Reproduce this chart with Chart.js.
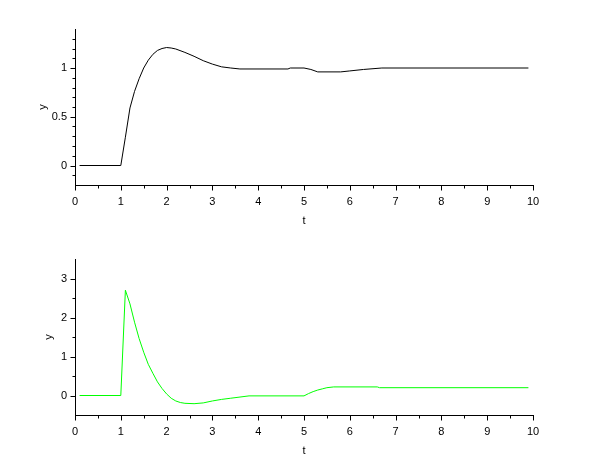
<!DOCTYPE html>
<html><head><meta charset="utf-8">
<script src="https://cdn.jsdelivr.net/npm/chart.js@4/dist/chart.umd.min.js"></script>
<style>
html,body{margin:0;padding:0;background:#fff;}
#wrap{position:relative;width:610px;height:460px;background:#fff;}
.box{position:absolute;left:0;width:610px;height:230px;}
</style></head><body>
<div id="wrap">
<div class="box" style="top:0"><canvas id="c1" width="610" height="230"></canvas></div>
<div class="box" style="top:230px"><canvas id="c2" width="610" height="230"></canvas></div>
</div>
<script>
// ---- data ----
const tTop = [0.1,1.0,1.1,1.2,1.3,1.4,1.5,1.6,1.7,1.8,1.9,2.0,2.1,2.2,2.4,2.6,2.8,3.0,3.2,3.4,3.6,4.65,4.7,5.0,5.15,5.3,5.8,6.0,6.3,6.7,9.9];
const yTop = [0,0,0.29,0.59,0.76,0.89,1.0,1.08,1.14,1.18,1.2,1.21,1.205,1.195,1.16,1.12,1.075,1.04,1.012,1.0,0.99,0.99,1.0,1.0,0.985,0.96,0.96,0.97,0.985,1.0,1.0];
const tBot = [0.1,1.0,1.1,1.2,1.3,1.4,1.5,1.6,1.7,1.8,1.9,2.0,2.1,2.2,2.3,2.4,2.6,2.8,3.0,3.2,3.4,3.8,5.0,5.1,5.2,5.3,5.4,5.5,5.65,6.6,6.65,9.9];
const yBot = [0,0,2.7,2.35,1.88,1.46,1.11,0.8,0.57,0.35,0.18,0.04,-0.07,-0.14,-0.18,-0.2,-0.21,-0.19,-0.14,-0.1,-0.07,-0.01,-0.01,0.05,0.1,0.14,0.17,0.2,0.22,0.22,0.2,0.2];

const xMajor = [0,1,2,3,4,5,6,7,8,9,10];
const xMinor = [0.5,1.5,2.5,3.5,4.5,5.5,6.5,7.5,8.5,9.5];
const yTopMajor = [0,0.5,1];
const yTopMinor = [-0.1,0.1,0.2,0.3,0.4,0.6,0.7,0.8,0.9,1.1,1.2,1.3];
const yBotMajor = [0,1,2,3];
const yBotMinor = [0.5,1.5,2.5];

Chart.defaults.font.family = '"Liberation Sans", Arial, sans-serif';
Chart.defaults.font.size = 11;
Chart.defaults.color = '#000';

const tickPlugin = {
  id: 'scilabTicks',
  afterDraw(chart, args, opts) {
    const ctx = chart.ctx;
    const xs = chart.scales.x, ys = chart.scales.y;
    ctx.save();
    ctx.strokeStyle = '#000';
    ctx.lineWidth = 1;
    const left = Math.round(xs.left) + 0.5;
    const bottom = Math.round(ys.bottom) + 0.5;
    const h = (v, len) => {
      const y = Math.round(ys.getPixelForValue(v)) + 0.5;
      ctx.beginPath(); ctx.moveTo(left, y); ctx.lineTo(left - len, y); ctx.stroke();
    };
    const v = (val, len) => {
      const x = Math.round(xs.getPixelForValue(val)) + 0.5;
      ctx.beginPath(); ctx.moveTo(x, bottom); ctx.lineTo(x, bottom + len); ctx.stroke();
    };
    xMajor.forEach(t => v(t, 5));
    xMinor.forEach(t => v(t, 3));
    opts.yMajor.forEach(t => h(t, 5));
    opts.yMinor.forEach(t => h(t, 3));
    ctx.restore();
  }
};

function makeChart(id, tArr, yArr, color, yMin, yMax, yMajor, yMinor, yTitlePad) {
  return new Chart(document.getElementById(id), {
    type: 'scatter',
    data: {
      datasets: [{
        data: tArr.map((t, i) => ({x: t, y: yArr[i]})),
        showLine: true,
        borderColor: color,
        borderWidth: 1,
        pointRadius: 0,
        tension: 0,
        fill: false
      }]
    },
    options: {
      responsive: false,
      animation: false,
      devicePixelRatio: 1,
      layout: {padding: {top: 29, right: 77, bottom: 0, left: 0}},
      plugins: {
        legend: {display: false},
        tooltip: {enabled: false},
        scilabTicks: {yMajor: yMajor, yMinor: yMinor}
      },
      scales: {
        x: {
          type: 'linear', min: 0, max: 10,
          afterBuildTicks: s => { s.ticks = xMajor.map(v => ({value: v})); },
          afterFit: s => { s.height = 45; },
          grid: {display: false, drawTicks: false},
          border: {display: true, color: '#000', width: 1},
          ticks: {padding: 10, maxRotation: 0, autoSkip: false, callback: v => String(v)},
          title: {display: true, text: 't', padding: {top: 0, bottom: 2}, font: {size: 11}}
        },
        y: {
          type: 'linear', min: yMin, max: yMax,
          afterBuildTicks: s => { s.ticks = yMajor.map(v => ({value: v})); },
          afterFit: s => { s.width = 75; },
          grid: {display: false, drawTicks: false},
          border: {display: true, color: '#000', width: 1},
          ticks: {padding: 8, autoSkip: false, callback: v => String(v)},
          title: {display: true, text: 'y', padding: {top: yTitlePad, bottom: 0}, font: {size: 11}}
        }
      }
    },
    plugins: [tickPlugin]
  });
}

makeChart('c1', tTop, yTop, '#000000', -0.2, 1.4, yTopMajor, yTopMinor, 36);
makeChart('c2', tBot, yBot, '#00ff00', -0.5, 3.5, yBotMajor, yBotMinor, 42);
</script>
</body></html>
